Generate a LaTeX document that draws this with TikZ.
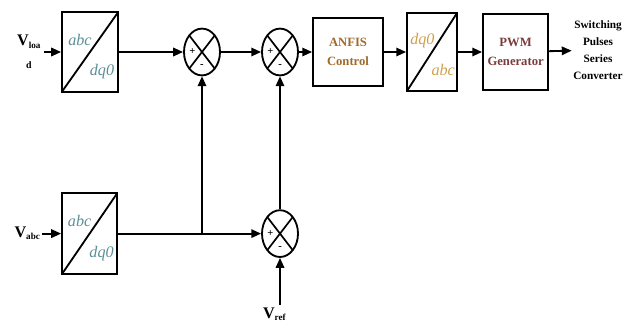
\documentclass[tikz,border=0pt]{standalone}
\usepackage{fontspec}
\setmainfont{Liberation Serif}
\usetikzlibrary{shapes.geometric, arrows.meta, positioning}

\definecolor{abcteal}{HTML}{5B8F96}
\definecolor{anfisbrown}{HTML}{A06A2C}
\definecolor{dqgold}{HTML}{CFA04A}
\definecolor{pwmred}{HTML}{7B3B3B}

\begin{document}
\begin{tikzpicture}[
  font=\bfseries\fontsize{9}{14}\selectfont,
  blk/.style={draw, line width=1.3pt, minimum width=17.5mm, minimum height=17mm, align=center, inner sep=2pt},
  conv/.style={draw, line width=1.3pt, minimum width=14mm, minimum height=19.8mm, inner sep=0pt,
               path picture={\draw[line width=1.3pt] (path picture bounding box.south west) -- (path picture bounding box.north east);}},
  sumj/.style={draw, ellipse, line width=1.3pt, minimum width=9mm, minimum height=11.7mm, inner sep=0pt,
               path picture={\draw[line width=1.2pt] (path picture bounding box.north west) -- (path picture bounding box.south east)
                                                   (path picture bounding box.south west) -- (path picture bounding box.north east);}},
  sign/.style={font=\bfseries\fontsize{7.5}{7.5}\selectfont, inner sep=0pt},
  ctxt/.style={font=\itshape\fontsize{11.5}{12}\selectfont, inner sep=0pt},
  sig/.style={-{Triangle[length=7pt,width=6pt]}, line width=1.3pt},
  wire/.style={line width=1.3pt}
]
\useasboundingbox (0,0) rectangle (15.8,-8.225);

% top row
\node[conv] (abcdqa) at (2.25,-1.3) {};
\node[sumj] (suma)   at (5.05,-1.3) {};
\node[sumj] (sumb)   at (7.0,-1.3)  {};
\node[blk, text=anfisbrown] (anfis) at (8.7,-1.3) {ANFIS\\Control};
\node[conv, minimum width=12.5mm, minimum height=19.5mm] (dqabc) at (10.8,-1.3) {};
\node[blk, text=pwmred, minimum width=16.3mm, minimum height=18.8mm] (pwm) at (12.89,-1.3) {PWM\\Generator};
\node[align=center, font=\bfseries\fontsize{8}{12}\selectfont, inner sep=1pt] (out) at (14.95,-1.25)
     {Switching\\Pulses\\Series\\Converter};

% bottom row
\node[conv, minimum width=13.8mm, minimum height=20.2mm] (abcdqb) at (2.24,-5.84) {};
\node[sumj] (sumc) at (7.0,-5.84) {};

% frame labels
\node[ctxt, text=abcteal] (la1) at ([shift={(-0.25,0.31)}]abcdqa.center) {abc};
\node[ctxt, text=abcteal] (la2) at ([shift={(0.3,-0.49)}]abcdqa.center)  {dq0};
\node[ctxt, text=abcteal] (lb1) at ([shift={(-0.25,0.31)}]abcdqb.center) {abc};
\node[ctxt, text=abcteal] (lb2) at ([shift={(0.3,-0.49)}]abcdqb.center)  {dq0};
\node[ctxt, text=dqgold]  (lc1) at ([shift={(-0.24,0.28)}]dqabc.center)  {dq0};
\node[ctxt, text=dqgold]  (lc2) at ([shift={(0.28,-0.45)}]dqabc.center)  {abc};

% signs
\foreach \s in {suma,sumb,sumc}{
  \node[sign] (\s p) at ([xshift=-2.4mm]\s.center) {+};
  \node[sign] (\s m) at ([yshift=-3.6mm]\s.center) {-};
}

% inputs
\node[align=center, inner sep=0pt] (vload) at (0.72,-1.3)
     {{\fontsize{11.5}{11}\selectfont V{\fontsize{6.5}{7}\selectfont\raisebox{-1.5pt}{loa}}}\\[2pt]{\fontsize{7}{7}\selectfont d}};
\node[inner sep=0pt] (vabc) at (0.68,-5.84) {\fontsize{11.5}{11}\selectfont V{\fontsize{6.5}{7}\selectfont\raisebox{-1.5pt}{abc}}};
\node[inner sep=0pt] (vref) at (6.86,-7.85) {\fontsize{11.5}{11}\selectfont V{\fontsize{6.5}{7}\selectfont\raisebox{-1.5pt}{ref}}};
\coordinate (junc) at (suma |- abcdqb.east);

% connections
\draw[sig] ([xshift=2pt]vload.east) -- (abcdqa.west);
\draw[sig] ([xshift=1pt]vabc.east) -- (abcdqb.west);
\draw[sig] (abcdqa) -- (suma);
\draw[sig] (suma) -- (sumb);
\draw[sig] (sumb) -- (anfis);
\draw[sig] (anfis) -- (dqabc);
\draw[sig] (dqabc) -- (pwm);
\draw[sig] (pwm) -- (out);
\draw[wire] (abcdqb.east) -- (junc);
\draw[sig] (junc) -- (sumc);
\draw[sig] (junc) -- (suma.south);
\draw[sig] (sumc.north) -- (sumb.south);
\draw[sig] ([yshift=2pt]sumc |- vref.north) -- (sumc.south);
\end{tikzpicture}
\end{document}
